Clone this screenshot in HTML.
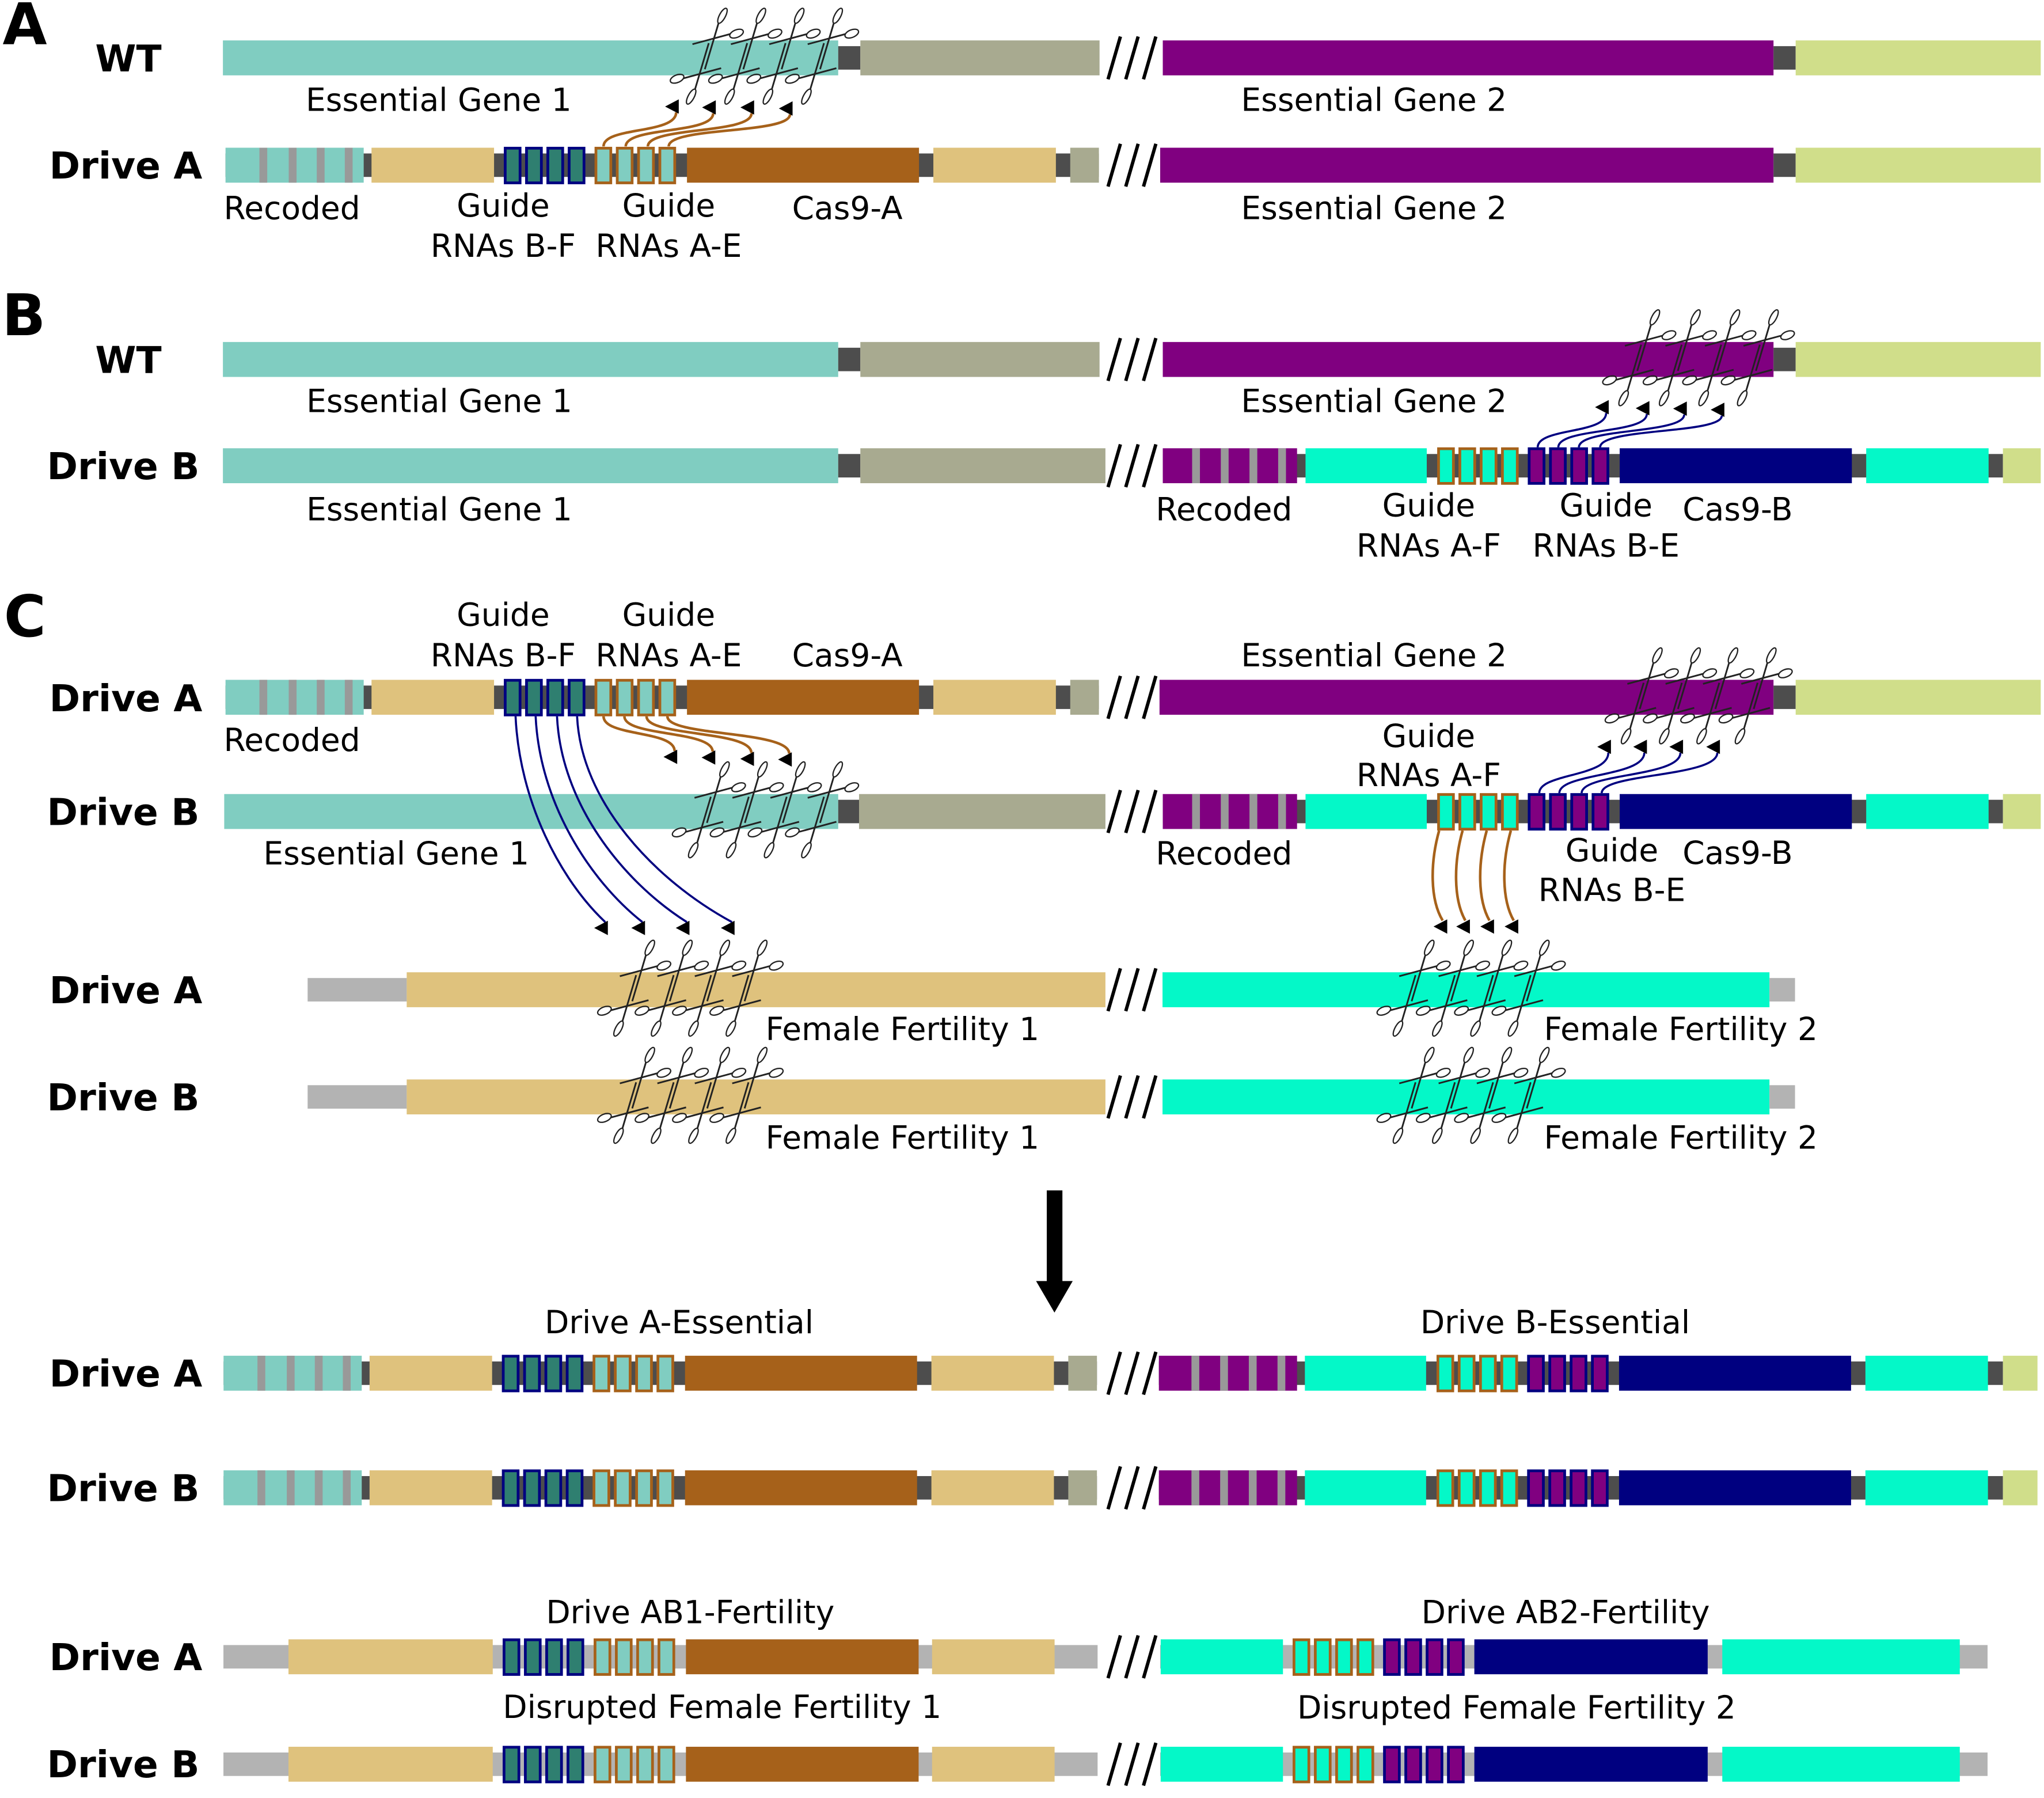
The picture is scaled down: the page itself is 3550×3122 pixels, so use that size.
<!DOCTYPE html>
<html><head><meta charset="utf-8"><style>
html,body{margin:0;padding:0;background:#fff;overflow:hidden}
svg{display:block}
.t{font-family:"DejaVu Sans","Liberation Sans",sans-serif;font-size:24.3px;fill:#000}
.b{font-family:"DejaVu Sans","Liberation Sans",sans-serif;font-size:28.5px;font-weight:bold;fill:#000}
.L{font-family:"DejaVu Sans","Liberation Sans",sans-serif;font-size:44px;font-weight:bold;fill:#000}
.m{text-anchor:middle}
.sl{stroke:#000;stroke-width:2.6;fill:none}
.sc ellipse{fill:none;stroke:#222;stroke-width:1.0}
.sc path{fill:none;stroke:#222;stroke-width:1.3}
.br{fill:none;stroke:#a6611a;stroke-width:2.0}
.bl{fill:none;stroke:#000080;stroke-width:1.6}
</style></head><body>
<svg width="3550" height="3122" viewBox="0 0 1568 1379" preserveAspectRatio="none" xmlns="http://www.w3.org/2000/svg">
<rect x="0" y="0" width="1568" height="1379" fill="#fff"/>

<!-- Row 1: A WT -->
<g transform="translate(0,31)">
<rect x="171" width="472" height="26.8" fill="#80cdc1"/><rect x="643" y="4.4" width="17" height="18" fill="#4d4d4d"/><rect x="660" width="183.5" height="26.8" fill="#a8aa90"/>
<path class="sl" d="M850 29.8L859.5-3M863.6 29.8L873.1-3M877.2 29.8L886.7-3"/>
<rect x="892" width="468.5" height="26.8" fill="#800080"/><rect x="1360.5" y="4.4" width="17" height="18" fill="#4d4d4d"/><rect x="1377.5" width="188" height="26.8" fill="#d0de8a"/>
</g>

<!-- Row 2: A Drive A -->
<g transform="translate(0,113.3)">
<rect x="173" y="4.4" width="670" height="18" fill="#4d4d4d"/>
<rect x="173" width="106" height="26.8" fill="#80cdc1"/>
<rect x="199" width="6" height="26.8" fill="#999"/><rect x="221.5" width="6" height="26.8" fill="#999"/><rect x="243" width="6" height="26.8" fill="#999"/><rect x="264.5" width="6" height="26.8" fill="#999"/>
<rect x="285" width="94" height="26.8" fill="#dfc27d"/>
<rect x="387.55" y="0.35" width="11.4" height="26.6" fill="#2f7f70" stroke="#000080" stroke-width="2.1"/><rect x="403.9" y="0.35" width="11.4" height="26.6" fill="#2f7f70" stroke="#000080" stroke-width="2.1"/><rect x="420.25" y="0.35" width="11.4" height="26.6" fill="#2f7f70" stroke="#000080" stroke-width="2.1"/><rect x="436.6" y="0.35" width="11.4" height="26.6" fill="#2f7f70" stroke="#000080" stroke-width="2.1"/>
<rect x="457.15" y="0.35" width="11.4" height="26.6" fill="#80cdc1" stroke="#a6611a" stroke-width="2.1"/><rect x="473.5" y="0.35" width="11.4" height="26.6" fill="#80cdc1" stroke="#a6611a" stroke-width="2.1"/><rect x="489.85" y="0.35" width="11.4" height="26.6" fill="#80cdc1" stroke="#a6611a" stroke-width="2.1"/><rect x="506.2" y="0.35" width="11.4" height="26.6" fill="#80cdc1" stroke="#a6611a" stroke-width="2.1"/>
<rect x="527" width="178" height="26.8" fill="#a6611a"/>
<rect x="716" width="94" height="26.8" fill="#dfc27d"/>
<rect x="821" width="22" height="26.8" fill="#a8aa90"/>
<path class="sl" d="M850 29.8L859.5-3M863.6 29.8L873.1-3M877.2 29.8L886.7-3"/>
<rect x="890" width="470.5" height="26.8" fill="#800080"/><rect x="1360.5" y="4.4" width="17" height="18" fill="#4d4d4d"/><rect x="1377.5" width="188" height="26.8" fill="#d0de8a"/>
</g>

<!-- Row 3: B WT -->
<g transform="translate(0,262.3)">
<rect x="171" width="472" height="26.8" fill="#80cdc1"/><rect x="643" y="4.4" width="17" height="18" fill="#4d4d4d"/><rect x="660" width="183.5" height="26.8" fill="#a8aa90"/>
<path class="sl" d="M850 29.8L859.5-3M863.6 29.8L873.1-3M877.2 29.8L886.7-3"/>
<rect x="892" width="468.5" height="26.8" fill="#800080"/><rect x="1360.5" y="4.4" width="17" height="18" fill="#4d4d4d"/><rect x="1377.5" width="188" height="26.8" fill="#d0de8a"/>
</g>

<!-- Row 4: B Drive B -->
<g transform="translate(0,343.8)">
<rect x="171" width="472" height="26.8" fill="#80cdc1"/><rect x="643" y="4.4" width="17" height="18" fill="#4d4d4d"/><rect x="660" width="188" height="26.8" fill="#a8aa90"/>
<path class="sl" d="M850 29.8L859.5-3M863.6 29.8L873.1-3M877.2 29.8L886.7-3"/>
<rect x="892" y="4.4" width="644.5" height="18" fill="#4d4d4d"/>
<rect x="892" width="103" height="26.8" fill="#800080"/>
<rect x="914.5" width="6" height="26.8" fill="#999"/><rect x="936.5" width="6" height="26.8" fill="#999"/><rect x="958.5" width="6" height="26.8" fill="#999"/><rect x="980.5" width="6" height="26.8" fill="#999"/>
<rect x="1001.5" width="93" height="26.8" fill="#04f8c8"/>
<rect x="1103.55" y="0.35" width="11.4" height="26.6" fill="#04f8c8" stroke="#a6611a" stroke-width="2.1"/><rect x="1119.88" y="0.35" width="11.4" height="26.6" fill="#04f8c8" stroke="#a6611a" stroke-width="2.1"/><rect x="1136.22" y="0.35" width="11.4" height="26.6" fill="#04f8c8" stroke="#a6611a" stroke-width="2.1"/><rect x="1152.55" y="0.35" width="11.4" height="26.6" fill="#04f8c8" stroke="#a6611a" stroke-width="2.1"/>
<rect x="1173.05" y="0.35" width="11.4" height="26.6" fill="#800080" stroke="#000080" stroke-width="2.1"/><rect x="1189.38" y="0.35" width="11.4" height="26.6" fill="#800080" stroke="#000080" stroke-width="2.1"/><rect x="1205.72" y="0.35" width="11.4" height="26.6" fill="#800080" stroke="#000080" stroke-width="2.1"/><rect x="1222.05" y="0.35" width="11.4" height="26.6" fill="#800080" stroke="#000080" stroke-width="2.1"/>
<rect x="1242.5" width="178.1" height="26.8" fill="#000080"/>
<rect x="1431.6" width="93.9" height="26.8" fill="#04f8c8"/>
<rect x="1536.5" width="29" height="26.8" fill="#d0de8a"/>
</g>

<!-- Row 5: C Drive A -->
<g transform="translate(0,521.4)">
<rect x="173" y="4.4" width="670" height="18" fill="#4d4d4d"/>
<rect x="173" width="106" height="26.8" fill="#80cdc1"/>
<rect x="199" width="6" height="26.8" fill="#999"/><rect x="221.5" width="6" height="26.8" fill="#999"/><rect x="243" width="6" height="26.8" fill="#999"/><rect x="264.5" width="6" height="26.8" fill="#999"/>
<rect x="285" width="94" height="26.8" fill="#dfc27d"/>
<rect x="387.55" y="0.35" width="11.4" height="26.6" fill="#2f7f70" stroke="#000080" stroke-width="2.1"/><rect x="403.9" y="0.35" width="11.4" height="26.6" fill="#2f7f70" stroke="#000080" stroke-width="2.1"/><rect x="420.25" y="0.35" width="11.4" height="26.6" fill="#2f7f70" stroke="#000080" stroke-width="2.1"/><rect x="436.6" y="0.35" width="11.4" height="26.6" fill="#2f7f70" stroke="#000080" stroke-width="2.1"/>
<rect x="457.15" y="0.35" width="11.4" height="26.6" fill="#80cdc1" stroke="#a6611a" stroke-width="2.1"/><rect x="473.5" y="0.35" width="11.4" height="26.6" fill="#80cdc1" stroke="#a6611a" stroke-width="2.1"/><rect x="489.85" y="0.35" width="11.4" height="26.6" fill="#80cdc1" stroke="#a6611a" stroke-width="2.1"/><rect x="506.2" y="0.35" width="11.4" height="26.6" fill="#80cdc1" stroke="#a6611a" stroke-width="2.1"/>
<rect x="527" width="178" height="26.8" fill="#a6611a"/>
<rect x="716" width="94" height="26.8" fill="#dfc27d"/>
<rect x="821" width="22" height="26.8" fill="#a8aa90"/>
<path class="sl" d="M850 29.8L859.5-3M863.6 29.8L873.1-3M877.2 29.8L886.7-3"/>
<rect x="889.5" width="471" height="26.8" fill="#800080"/><rect x="1360.5" y="4.4" width="17" height="18" fill="#4d4d4d"/><rect x="1377.5" width="188" height="26.8" fill="#d0de8a"/>
</g>

<!-- Row 6: C Drive B -->
<g transform="translate(0,609)">
<rect x="172" width="471" height="26.8" fill="#80cdc1"/><rect x="643" y="4.4" width="16" height="18" fill="#4d4d4d"/><rect x="659" width="189" height="26.8" fill="#a8aa90"/>
<path class="sl" d="M850 29.8L859.5-3M863.6 29.8L873.1-3M877.2 29.8L886.7-3"/>
<rect x="892" y="4.4" width="644.5" height="18" fill="#4d4d4d"/>
<rect x="892" width="103" height="26.8" fill="#800080"/>
<rect x="914.5" width="6" height="26.8" fill="#999"/><rect x="936.5" width="6" height="26.8" fill="#999"/><rect x="958.5" width="6" height="26.8" fill="#999"/><rect x="980.5" width="6" height="26.8" fill="#999"/>
<rect x="1001.5" width="93" height="26.8" fill="#04f8c8"/>
<rect x="1103.55" y="0.35" width="11.4" height="26.6" fill="#04f8c8" stroke="#a6611a" stroke-width="2.1"/><rect x="1119.88" y="0.35" width="11.4" height="26.6" fill="#04f8c8" stroke="#a6611a" stroke-width="2.1"/><rect x="1136.22" y="0.35" width="11.4" height="26.6" fill="#04f8c8" stroke="#a6611a" stroke-width="2.1"/><rect x="1152.55" y="0.35" width="11.4" height="26.6" fill="#04f8c8" stroke="#a6611a" stroke-width="2.1"/>
<rect x="1173.05" y="0.35" width="11.4" height="26.6" fill="#800080" stroke="#000080" stroke-width="2.1"/><rect x="1189.38" y="0.35" width="11.4" height="26.6" fill="#800080" stroke="#000080" stroke-width="2.1"/><rect x="1205.72" y="0.35" width="11.4" height="26.6" fill="#800080" stroke="#000080" stroke-width="2.1"/><rect x="1222.05" y="0.35" width="11.4" height="26.6" fill="#800080" stroke="#000080" stroke-width="2.1"/>
<rect x="1242.5" width="178.1" height="26.8" fill="#000080"/>
<rect x="1431.6" width="93.9" height="26.8" fill="#04f8c8"/>
<rect x="1536.5" width="29" height="26.8" fill="#d0de8a"/>
</g>

<!-- Rows 7,8: Female fertility -->
<g transform="translate(0,745.7)">
<rect x="236" y="4.4" width="76" height="18" fill="#b3b3b3"/><rect x="312" width="536" height="26.8" fill="#dfc27d"/>
<path class="sl" d="M850 29.8L859.5-3M863.6 29.8L873.1-3M877.2 29.8L886.7-3"/>
<rect x="891.8" width="465.6" height="26.8" fill="#04f8c8"/><rect x="1357.4" y="4.4" width="19.6" height="18" fill="#b3b3b3"/>
</g>
<g transform="translate(0,827.9)">
<rect x="236" y="4.4" width="76" height="18" fill="#b3b3b3"/><rect x="312" width="536" height="26.8" fill="#dfc27d"/>
<path class="sl" d="M850 29.8L859.5-3M863.6 29.8L873.1-3M877.2 29.8L886.7-3"/>
<rect x="891.8" width="465.6" height="26.8" fill="#04f8c8"/><rect x="1357.4" y="4.4" width="19.6" height="18" fill="#b3b3b3"/>
</g>

<!-- Rows 9,10 -->
<g transform="translate(0,1039.8)">
<g transform="translate(-1.5,0)">
<rect x="173" y="4.4" width="670" height="18" fill="#4d4d4d"/>
<rect x="173" width="106" height="26.8" fill="#80cdc1"/>
<rect x="199" width="6" height="26.8" fill="#999"/><rect x="221.5" width="6" height="26.8" fill="#999"/><rect x="243" width="6" height="26.8" fill="#999"/><rect x="264.5" width="6" height="26.8" fill="#999"/>
<rect x="285" width="94" height="26.8" fill="#dfc27d"/>
<rect x="387.55" y="0.35" width="11.4" height="26.6" fill="#2f7f70" stroke="#000080" stroke-width="2.1"/><rect x="403.9" y="0.35" width="11.4" height="26.6" fill="#2f7f70" stroke="#000080" stroke-width="2.1"/><rect x="420.25" y="0.35" width="11.4" height="26.6" fill="#2f7f70" stroke="#000080" stroke-width="2.1"/><rect x="436.6" y="0.35" width="11.4" height="26.6" fill="#2f7f70" stroke="#000080" stroke-width="2.1"/>
<rect x="457.15" y="0.35" width="11.4" height="26.6" fill="#80cdc1" stroke="#a6611a" stroke-width="2.1"/><rect x="473.5" y="0.35" width="11.4" height="26.6" fill="#80cdc1" stroke="#a6611a" stroke-width="2.1"/><rect x="489.85" y="0.35" width="11.4" height="26.6" fill="#80cdc1" stroke="#a6611a" stroke-width="2.1"/><rect x="506.2" y="0.35" width="11.4" height="26.6" fill="#80cdc1" stroke="#a6611a" stroke-width="2.1"/>
<rect x="527" width="178" height="26.8" fill="#a6611a"/>
<rect x="716" width="94" height="26.8" fill="#dfc27d"/>
<rect x="821" width="22" height="26.8" fill="#a8aa90"/>
</g>
<path class="sl" d="M850 29.8L859.5-3M863.6 29.8L873.1-3M877.2 29.8L886.7-3"/>
<rect x="889" y="4.4" width="647.5" height="18" fill="#4d4d4d"/>
<rect x="889" width="106" height="26.8" fill="#800080"/>
<rect x="914" width="6" height="26.8" fill="#999"/><rect x="936" width="6" height="26.8" fill="#999"/><rect x="958" width="6" height="26.8" fill="#999"/><rect x="980" width="6" height="26.8" fill="#999"/>
<rect x="1001" width="93" height="26.8" fill="#04f8c8"/>
<rect x="1103.05" y="0.35" width="11.4" height="26.6" fill="#04f8c8" stroke="#a6611a" stroke-width="2.1"/><rect x="1119.38" y="0.35" width="11.4" height="26.6" fill="#04f8c8" stroke="#a6611a" stroke-width="2.1"/><rect x="1135.72" y="0.35" width="11.4" height="26.6" fill="#04f8c8" stroke="#a6611a" stroke-width="2.1"/><rect x="1152.05" y="0.35" width="11.4" height="26.6" fill="#04f8c8" stroke="#a6611a" stroke-width="2.1"/>
<rect x="1172.55" y="0.35" width="11.4" height="26.6" fill="#800080" stroke="#000080" stroke-width="2.1"/><rect x="1188.88" y="0.35" width="11.4" height="26.6" fill="#800080" stroke="#000080" stroke-width="2.1"/><rect x="1205.22" y="0.35" width="11.4" height="26.6" fill="#800080" stroke="#000080" stroke-width="2.1"/><rect x="1221.55" y="0.35" width="11.4" height="26.6" fill="#800080" stroke="#000080" stroke-width="2.1"/>
<rect x="1242" width="178" height="26.8" fill="#000080"/>
<rect x="1431" width="94" height="26.8" fill="#04f8c8"/>
<rect x="1536.5" width="26.5" height="26.8" fill="#d0de8a"/>
</g>
<g transform="translate(0,1127.7)">
<g transform="translate(-1.5,0)">
<rect x="173" y="4.4" width="670" height="18" fill="#4d4d4d"/>
<rect x="173" width="106" height="26.8" fill="#80cdc1"/>
<rect x="199" width="6" height="26.8" fill="#999"/><rect x="221.5" width="6" height="26.8" fill="#999"/><rect x="243" width="6" height="26.8" fill="#999"/><rect x="264.5" width="6" height="26.8" fill="#999"/>
<rect x="285" width="94" height="26.8" fill="#dfc27d"/>
<rect x="387.55" y="0.35" width="11.4" height="26.6" fill="#2f7f70" stroke="#000080" stroke-width="2.1"/><rect x="403.9" y="0.35" width="11.4" height="26.6" fill="#2f7f70" stroke="#000080" stroke-width="2.1"/><rect x="420.25" y="0.35" width="11.4" height="26.6" fill="#2f7f70" stroke="#000080" stroke-width="2.1"/><rect x="436.6" y="0.35" width="11.4" height="26.6" fill="#2f7f70" stroke="#000080" stroke-width="2.1"/>
<rect x="457.15" y="0.35" width="11.4" height="26.6" fill="#80cdc1" stroke="#a6611a" stroke-width="2.1"/><rect x="473.5" y="0.35" width="11.4" height="26.6" fill="#80cdc1" stroke="#a6611a" stroke-width="2.1"/><rect x="489.85" y="0.35" width="11.4" height="26.6" fill="#80cdc1" stroke="#a6611a" stroke-width="2.1"/><rect x="506.2" y="0.35" width="11.4" height="26.6" fill="#80cdc1" stroke="#a6611a" stroke-width="2.1"/>
<rect x="527" width="178" height="26.8" fill="#a6611a"/>
<rect x="716" width="94" height="26.8" fill="#dfc27d"/>
<rect x="821" width="22" height="26.8" fill="#a8aa90"/>
</g>
<path class="sl" d="M850 29.8L859.5-3M863.6 29.8L873.1-3M877.2 29.8L886.7-3"/>
<rect x="889" y="4.4" width="647.5" height="18" fill="#4d4d4d"/>
<rect x="889" width="106" height="26.8" fill="#800080"/>
<rect x="914" width="6" height="26.8" fill="#999"/><rect x="936" width="6" height="26.8" fill="#999"/><rect x="958" width="6" height="26.8" fill="#999"/><rect x="980" width="6" height="26.8" fill="#999"/>
<rect x="1001" width="93" height="26.8" fill="#04f8c8"/>
<rect x="1103.05" y="0.35" width="11.4" height="26.6" fill="#04f8c8" stroke="#a6611a" stroke-width="2.1"/><rect x="1119.38" y="0.35" width="11.4" height="26.6" fill="#04f8c8" stroke="#a6611a" stroke-width="2.1"/><rect x="1135.72" y="0.35" width="11.4" height="26.6" fill="#04f8c8" stroke="#a6611a" stroke-width="2.1"/><rect x="1152.05" y="0.35" width="11.4" height="26.6" fill="#04f8c8" stroke="#a6611a" stroke-width="2.1"/>
<rect x="1172.55" y="0.35" width="11.4" height="26.6" fill="#800080" stroke="#000080" stroke-width="2.1"/><rect x="1188.88" y="0.35" width="11.4" height="26.6" fill="#800080" stroke="#000080" stroke-width="2.1"/><rect x="1205.22" y="0.35" width="11.4" height="26.6" fill="#800080" stroke="#000080" stroke-width="2.1"/><rect x="1221.55" y="0.35" width="11.4" height="26.6" fill="#800080" stroke="#000080" stroke-width="2.1"/>
<rect x="1242" width="178" height="26.8" fill="#000080"/>
<rect x="1431" width="94" height="26.8" fill="#04f8c8"/>
<rect x="1536.5" width="26.5" height="26.8" fill="#d0de8a"/>
</g>

<!-- Rows 11,12 -->
<g transform="translate(0,1257.3)">
<rect x="171.4" y="4.4" width="670.6" height="18" fill="#b3b3b3"/>
<rect x="221.3" width="156.7" height="26.8" fill="#dfc27d"/>
<rect x="386.65" y="0.35" width="11.4" height="26.6" fill="#2f7f70" stroke="#000080" stroke-width="2.1"/><rect x="403" y="0.35" width="11.4" height="26.6" fill="#2f7f70" stroke="#000080" stroke-width="2.1"/><rect x="419.35" y="0.35" width="11.4" height="26.6" fill="#2f7f70" stroke="#000080" stroke-width="2.1"/><rect x="435.7" y="0.35" width="11.4" height="26.6" fill="#2f7f70" stroke="#000080" stroke-width="2.1"/>
<rect x="456.45" y="0.35" width="11.4" height="26.6" fill="#80cdc1" stroke="#a6611a" stroke-width="2.1"/><rect x="472.8" y="0.35" width="11.4" height="26.6" fill="#80cdc1" stroke="#a6611a" stroke-width="2.1"/><rect x="489.15" y="0.35" width="11.4" height="26.6" fill="#80cdc1" stroke="#a6611a" stroke-width="2.1"/><rect x="505.5" y="0.35" width="11.4" height="26.6" fill="#80cdc1" stroke="#a6611a" stroke-width="2.1"/>
<rect x="526.2" width="178.5" height="26.8" fill="#a6611a"/>
<rect x="715" width="94" height="26.8" fill="#dfc27d"/>
<path class="sl" d="M850 29.8L859.5-3M863.6 29.8L873.1-3M877.2 29.8L886.7-3"/>
<rect x="890" y="4.4" width="634.7" height="18" fill="#b3b3b3"/>
<rect x="890.4" width="93.8" height="26.8" fill="#04f8c8"/>
<rect x="992.65" y="0.35" width="11.4" height="26.6" fill="#04f8c8" stroke="#a6611a" stroke-width="2.1"/><rect x="1009" y="0.35" width="11.4" height="26.6" fill="#04f8c8" stroke="#a6611a" stroke-width="2.1"/><rect x="1025.35" y="0.35" width="11.4" height="26.6" fill="#04f8c8" stroke="#a6611a" stroke-width="2.1"/><rect x="1041.7" y="0.35" width="11.4" height="26.6" fill="#04f8c8" stroke="#a6611a" stroke-width="2.1"/>
<rect x="1062.05" y="0.35" width="11.4" height="26.6" fill="#800080" stroke="#000080" stroke-width="2.1"/><rect x="1078.4" y="0.35" width="11.4" height="26.6" fill="#800080" stroke="#000080" stroke-width="2.1"/><rect x="1094.75" y="0.35" width="11.4" height="26.6" fill="#800080" stroke="#000080" stroke-width="2.1"/><rect x="1111.1" y="0.35" width="11.4" height="26.6" fill="#800080" stroke="#000080" stroke-width="2.1"/>
<rect x="1131" width="179" height="26.8" fill="#000080"/>
<rect x="1321.2" width="182.2" height="26.8" fill="#04f8c8"/>
</g>
<g transform="translate(0,1339.7)">
<rect x="171.4" y="4.4" width="670.6" height="18" fill="#b3b3b3"/>
<rect x="221.3" width="156.7" height="26.8" fill="#dfc27d"/>
<rect x="386.65" y="0.35" width="11.4" height="26.6" fill="#2f7f70" stroke="#000080" stroke-width="2.1"/><rect x="403" y="0.35" width="11.4" height="26.6" fill="#2f7f70" stroke="#000080" stroke-width="2.1"/><rect x="419.35" y="0.35" width="11.4" height="26.6" fill="#2f7f70" stroke="#000080" stroke-width="2.1"/><rect x="435.7" y="0.35" width="11.4" height="26.6" fill="#2f7f70" stroke="#000080" stroke-width="2.1"/>
<rect x="456.45" y="0.35" width="11.4" height="26.6" fill="#80cdc1" stroke="#a6611a" stroke-width="2.1"/><rect x="472.8" y="0.35" width="11.4" height="26.6" fill="#80cdc1" stroke="#a6611a" stroke-width="2.1"/><rect x="489.15" y="0.35" width="11.4" height="26.6" fill="#80cdc1" stroke="#a6611a" stroke-width="2.1"/><rect x="505.5" y="0.35" width="11.4" height="26.6" fill="#80cdc1" stroke="#a6611a" stroke-width="2.1"/>
<rect x="526.2" width="178.5" height="26.8" fill="#a6611a"/>
<rect x="715" width="94" height="26.8" fill="#dfc27d"/>
<path class="sl" d="M850 29.8L859.5-3M863.6 29.8L873.1-3M877.2 29.8L886.7-3"/>
<rect x="890" y="4.4" width="634.7" height="18" fill="#b3b3b3"/>
<rect x="890.4" width="93.8" height="26.8" fill="#04f8c8"/>
<rect x="992.65" y="0.35" width="11.4" height="26.6" fill="#04f8c8" stroke="#a6611a" stroke-width="2.1"/><rect x="1009" y="0.35" width="11.4" height="26.6" fill="#04f8c8" stroke="#a6611a" stroke-width="2.1"/><rect x="1025.35" y="0.35" width="11.4" height="26.6" fill="#04f8c8" stroke="#a6611a" stroke-width="2.1"/><rect x="1041.7" y="0.35" width="11.4" height="26.6" fill="#04f8c8" stroke="#a6611a" stroke-width="2.1"/>
<rect x="1062.05" y="0.35" width="11.4" height="26.6" fill="#800080" stroke="#000080" stroke-width="2.1"/><rect x="1078.4" y="0.35" width="11.4" height="26.6" fill="#800080" stroke="#000080" stroke-width="2.1"/><rect x="1094.75" y="0.35" width="11.4" height="26.6" fill="#800080" stroke="#000080" stroke-width="2.1"/><rect x="1111.1" y="0.35" width="11.4" height="26.6" fill="#800080" stroke="#000080" stroke-width="2.1"/>
<rect x="1131" width="179" height="26.8" fill="#000080"/>
<rect x="1321.2" width="182.2" height="26.8" fill="#04f8c8"/>
</g>

<!-- Scissors -->
<g id="scissors">
<g transform="translate(542.2,43.1)"><g class="sc"><ellipse cx="12" cy="-31" rx="2.3" ry="6.4" transform="rotate(28 12 -31)"/><ellipse cx="22.8" cy="-17.3" rx="5.5" ry="2.9" transform="rotate(-22 22.8 -17.3)"/><path d="M-11-9.2L18-17M9-25.3L-1.5 10"/></g><g class="sc" transform="rotate(180)"><ellipse cx="12" cy="-31" rx="2.3" ry="6.4" transform="rotate(28 12 -31)"/><ellipse cx="22.8" cy="-17.3" rx="5.5" ry="2.9" transform="rotate(-22 22.8 -17.3)"/><path d="M-11-9.2L18-17M9-25.3L-1.5 10"/></g></g>
<g transform="translate(571.7,43.1)"><g class="sc"><ellipse cx="12" cy="-31" rx="2.3" ry="6.4" transform="rotate(28 12 -31)"/><ellipse cx="22.8" cy="-17.3" rx="5.5" ry="2.9" transform="rotate(-22 22.8 -17.3)"/><path d="M-11-9.2L18-17M9-25.3L-1.5 10"/></g><g class="sc" transform="rotate(180)"><ellipse cx="12" cy="-31" rx="2.3" ry="6.4" transform="rotate(28 12 -31)"/><ellipse cx="22.8" cy="-17.3" rx="5.5" ry="2.9" transform="rotate(-22 22.8 -17.3)"/><path d="M-11-9.2L18-17M9-25.3L-1.5 10"/></g></g>
<g transform="translate(601.1,43.1)"><g class="sc"><ellipse cx="12" cy="-31" rx="2.3" ry="6.4" transform="rotate(28 12 -31)"/><ellipse cx="22.8" cy="-17.3" rx="5.5" ry="2.9" transform="rotate(-22 22.8 -17.3)"/><path d="M-11-9.2L18-17M9-25.3L-1.5 10"/></g><g class="sc" transform="rotate(180)"><ellipse cx="12" cy="-31" rx="2.3" ry="6.4" transform="rotate(28 12 -31)"/><ellipse cx="22.8" cy="-17.3" rx="5.5" ry="2.9" transform="rotate(-22 22.8 -17.3)"/><path d="M-11-9.2L18-17M9-25.3L-1.5 10"/></g></g>
<g transform="translate(630.6,43.1)"><g class="sc"><ellipse cx="12" cy="-31" rx="2.3" ry="6.4" transform="rotate(28 12 -31)"/><ellipse cx="22.8" cy="-17.3" rx="5.5" ry="2.9" transform="rotate(-22 22.8 -17.3)"/><path d="M-11-9.2L18-17M9-25.3L-1.5 10"/></g><g class="sc" transform="rotate(180)"><ellipse cx="12" cy="-31" rx="2.3" ry="6.4" transform="rotate(28 12 -31)"/><ellipse cx="22.8" cy="-17.3" rx="5.5" ry="2.9" transform="rotate(-22 22.8 -17.3)"/><path d="M-11-9.2L18-17M9-25.3L-1.5 10"/></g></g>

<g transform="translate(1257.5,274.4)"><g class="sc"><ellipse cx="12" cy="-31" rx="2.3" ry="6.4" transform="rotate(28 12 -31)"/><ellipse cx="22.8" cy="-17.3" rx="5.5" ry="2.9" transform="rotate(-22 22.8 -17.3)"/><path d="M-11-9.2L18-17M9-25.3L-1.5 10"/></g><g class="sc" transform="rotate(180)"><ellipse cx="12" cy="-31" rx="2.3" ry="6.4" transform="rotate(28 12 -31)"/><ellipse cx="22.8" cy="-17.3" rx="5.5" ry="2.9" transform="rotate(-22 22.8 -17.3)"/><path d="M-11-9.2L18-17M9-25.3L-1.5 10"/></g></g>
<g transform="translate(1288.6,274.4)"><g class="sc"><ellipse cx="12" cy="-31" rx="2.3" ry="6.4" transform="rotate(28 12 -31)"/><ellipse cx="22.8" cy="-17.3" rx="5.5" ry="2.9" transform="rotate(-22 22.8 -17.3)"/><path d="M-11-9.2L18-17M9-25.3L-1.5 10"/></g><g class="sc" transform="rotate(180)"><ellipse cx="12" cy="-31" rx="2.3" ry="6.4" transform="rotate(28 12 -31)"/><ellipse cx="22.8" cy="-17.3" rx="5.5" ry="2.9" transform="rotate(-22 22.8 -17.3)"/><path d="M-11-9.2L18-17M9-25.3L-1.5 10"/></g></g>
<g transform="translate(1318.9,274.4)"><g class="sc"><ellipse cx="12" cy="-31" rx="2.3" ry="6.4" transform="rotate(28 12 -31)"/><ellipse cx="22.8" cy="-17.3" rx="5.5" ry="2.9" transform="rotate(-22 22.8 -17.3)"/><path d="M-11-9.2L18-17M9-25.3L-1.5 10"/></g><g class="sc" transform="rotate(180)"><ellipse cx="12" cy="-31" rx="2.3" ry="6.4" transform="rotate(28 12 -31)"/><ellipse cx="22.8" cy="-17.3" rx="5.5" ry="2.9" transform="rotate(-22 22.8 -17.3)"/><path d="M-11-9.2L18-17M9-25.3L-1.5 10"/></g></g>
<g transform="translate(1348.5,274.4)"><g class="sc"><ellipse cx="12" cy="-31" rx="2.3" ry="6.4" transform="rotate(28 12 -31)"/><ellipse cx="22.8" cy="-17.3" rx="5.5" ry="2.9" transform="rotate(-22 22.8 -17.3)"/><path d="M-11-9.2L18-17M9-25.3L-1.5 10"/></g><g class="sc" transform="rotate(180)"><ellipse cx="12" cy="-31" rx="2.3" ry="6.4" transform="rotate(28 12 -31)"/><ellipse cx="22.8" cy="-17.3" rx="5.5" ry="2.9" transform="rotate(-22 22.8 -17.3)"/><path d="M-11-9.2L18-17M9-25.3L-1.5 10"/></g></g>

<g transform="translate(1259.4,533.7)"><g class="sc"><ellipse cx="12" cy="-31" rx="2.3" ry="6.4" transform="rotate(28 12 -31)"/><ellipse cx="22.8" cy="-17.3" rx="5.5" ry="2.9" transform="rotate(-22 22.8 -17.3)"/><path d="M-11-9.2L18-17M9-25.3L-1.5 10"/></g><g class="sc" transform="rotate(180)"><ellipse cx="12" cy="-31" rx="2.3" ry="6.4" transform="rotate(28 12 -31)"/><ellipse cx="22.8" cy="-17.3" rx="5.5" ry="2.9" transform="rotate(-22 22.8 -17.3)"/><path d="M-11-9.2L18-17M9-25.3L-1.5 10"/></g></g>
<g transform="translate(1288.7,533.7)"><g class="sc"><ellipse cx="12" cy="-31" rx="2.3" ry="6.4" transform="rotate(28 12 -31)"/><ellipse cx="22.8" cy="-17.3" rx="5.5" ry="2.9" transform="rotate(-22 22.8 -17.3)"/><path d="M-11-9.2L18-17M9-25.3L-1.5 10"/></g><g class="sc" transform="rotate(180)"><ellipse cx="12" cy="-31" rx="2.3" ry="6.4" transform="rotate(28 12 -31)"/><ellipse cx="22.8" cy="-17.3" rx="5.5" ry="2.9" transform="rotate(-22 22.8 -17.3)"/><path d="M-11-9.2L18-17M9-25.3L-1.5 10"/></g></g>
<g transform="translate(1317.4,533.7)"><g class="sc"><ellipse cx="12" cy="-31" rx="2.3" ry="6.4" transform="rotate(28 12 -31)"/><ellipse cx="22.8" cy="-17.3" rx="5.5" ry="2.9" transform="rotate(-22 22.8 -17.3)"/><path d="M-11-9.2L18-17M9-25.3L-1.5 10"/></g><g class="sc" transform="rotate(180)"><ellipse cx="12" cy="-31" rx="2.3" ry="6.4" transform="rotate(28 12 -31)"/><ellipse cx="22.8" cy="-17.3" rx="5.5" ry="2.9" transform="rotate(-22 22.8 -17.3)"/><path d="M-11-9.2L18-17M9-25.3L-1.5 10"/></g></g>
<g transform="translate(1346.8,533.7)"><g class="sc"><ellipse cx="12" cy="-31" rx="2.3" ry="6.4" transform="rotate(28 12 -31)"/><ellipse cx="22.8" cy="-17.3" rx="5.5" ry="2.9" transform="rotate(-22 22.8 -17.3)"/><path d="M-11-9.2L18-17M9-25.3L-1.5 10"/></g><g class="sc" transform="rotate(180)"><ellipse cx="12" cy="-31" rx="2.3" ry="6.4" transform="rotate(28 12 -31)"/><ellipse cx="22.8" cy="-17.3" rx="5.5" ry="2.9" transform="rotate(-22 22.8 -17.3)"/><path d="M-11-9.2L18-17M9-25.3L-1.5 10"/></g></g>

<g transform="translate(543.8,621.1)"><g class="sc"><ellipse cx="12" cy="-31" rx="2.3" ry="6.4" transform="rotate(28 12 -31)"/><ellipse cx="22.8" cy="-17.3" rx="5.5" ry="2.9" transform="rotate(-22 22.8 -17.3)"/><path d="M-11-9.2L18-17M9-25.3L-1.5 10"/></g><g class="sc" transform="rotate(180)"><ellipse cx="12" cy="-31" rx="2.3" ry="6.4" transform="rotate(28 12 -31)"/><ellipse cx="22.8" cy="-17.3" rx="5.5" ry="2.9" transform="rotate(-22 22.8 -17.3)"/><path d="M-11-9.2L18-17M9-25.3L-1.5 10"/></g></g>
<g transform="translate(572.9,621.1)"><g class="sc"><ellipse cx="12" cy="-31" rx="2.3" ry="6.4" transform="rotate(28 12 -31)"/><ellipse cx="22.8" cy="-17.3" rx="5.5" ry="2.9" transform="rotate(-22 22.8 -17.3)"/><path d="M-11-9.2L18-17M9-25.3L-1.5 10"/></g><g class="sc" transform="rotate(180)"><ellipse cx="12" cy="-31" rx="2.3" ry="6.4" transform="rotate(28 12 -31)"/><ellipse cx="22.8" cy="-17.3" rx="5.5" ry="2.9" transform="rotate(-22 22.8 -17.3)"/><path d="M-11-9.2L18-17M9-25.3L-1.5 10"/></g></g>
<g transform="translate(602,621.1)"><g class="sc"><ellipse cx="12" cy="-31" rx="2.3" ry="6.4" transform="rotate(28 12 -31)"/><ellipse cx="22.8" cy="-17.3" rx="5.5" ry="2.9" transform="rotate(-22 22.8 -17.3)"/><path d="M-11-9.2L18-17M9-25.3L-1.5 10"/></g><g class="sc" transform="rotate(180)"><ellipse cx="12" cy="-31" rx="2.3" ry="6.4" transform="rotate(28 12 -31)"/><ellipse cx="22.8" cy="-17.3" rx="5.5" ry="2.9" transform="rotate(-22 22.8 -17.3)"/><path d="M-11-9.2L18-17M9-25.3L-1.5 10"/></g></g>
<g transform="translate(630.6,621.1)"><g class="sc"><ellipse cx="12" cy="-31" rx="2.3" ry="6.4" transform="rotate(28 12 -31)"/><ellipse cx="22.8" cy="-17.3" rx="5.5" ry="2.9" transform="rotate(-22 22.8 -17.3)"/><path d="M-11-9.2L18-17M9-25.3L-1.5 10"/></g><g class="sc" transform="rotate(180)"><ellipse cx="12" cy="-31" rx="2.3" ry="6.4" transform="rotate(28 12 -31)"/><ellipse cx="22.8" cy="-17.3" rx="5.5" ry="2.9" transform="rotate(-22 22.8 -17.3)"/><path d="M-11-9.2L18-17M9-25.3L-1.5 10"/></g></g>

<g transform="translate(486.5,757.9)"><g class="sc"><ellipse cx="12" cy="-31" rx="2.3" ry="6.4" transform="rotate(28 12 -31)"/><ellipse cx="22.8" cy="-17.3" rx="5.5" ry="2.9" transform="rotate(-22 22.8 -17.3)"/><path d="M-11-9.2L18-17M9-25.3L-1.5 10"/></g><g class="sc" transform="rotate(180)"><ellipse cx="12" cy="-31" rx="2.3" ry="6.4" transform="rotate(28 12 -31)"/><ellipse cx="22.8" cy="-17.3" rx="5.5" ry="2.9" transform="rotate(-22 22.8 -17.3)"/><path d="M-11-9.2L18-17M9-25.3L-1.5 10"/></g></g>
<g transform="translate(515.3,757.9)"><g class="sc"><ellipse cx="12" cy="-31" rx="2.3" ry="6.4" transform="rotate(28 12 -31)"/><ellipse cx="22.8" cy="-17.3" rx="5.5" ry="2.9" transform="rotate(-22 22.8 -17.3)"/><path d="M-11-9.2L18-17M9-25.3L-1.5 10"/></g><g class="sc" transform="rotate(180)"><ellipse cx="12" cy="-31" rx="2.3" ry="6.4" transform="rotate(28 12 -31)"/><ellipse cx="22.8" cy="-17.3" rx="5.5" ry="2.9" transform="rotate(-22 22.8 -17.3)"/><path d="M-11-9.2L18-17M9-25.3L-1.5 10"/></g></g>
<g transform="translate(544,757.9)"><g class="sc"><ellipse cx="12" cy="-31" rx="2.3" ry="6.4" transform="rotate(28 12 -31)"/><ellipse cx="22.8" cy="-17.3" rx="5.5" ry="2.9" transform="rotate(-22 22.8 -17.3)"/><path d="M-11-9.2L18-17M9-25.3L-1.5 10"/></g><g class="sc" transform="rotate(180)"><ellipse cx="12" cy="-31" rx="2.3" ry="6.4" transform="rotate(28 12 -31)"/><ellipse cx="22.8" cy="-17.3" rx="5.5" ry="2.9" transform="rotate(-22 22.8 -17.3)"/><path d="M-11-9.2L18-17M9-25.3L-1.5 10"/></g></g>
<g transform="translate(572.7,757.9)"><g class="sc"><ellipse cx="12" cy="-31" rx="2.3" ry="6.4" transform="rotate(28 12 -31)"/><ellipse cx="22.8" cy="-17.3" rx="5.5" ry="2.9" transform="rotate(-22 22.8 -17.3)"/><path d="M-11-9.2L18-17M9-25.3L-1.5 10"/></g><g class="sc" transform="rotate(180)"><ellipse cx="12" cy="-31" rx="2.3" ry="6.4" transform="rotate(28 12 -31)"/><ellipse cx="22.8" cy="-17.3" rx="5.5" ry="2.9" transform="rotate(-22 22.8 -17.3)"/><path d="M-11-9.2L18-17M9-25.3L-1.5 10"/></g></g>

<g transform="translate(486.5,840.1)"><g class="sc"><ellipse cx="12" cy="-31" rx="2.3" ry="6.4" transform="rotate(28 12 -31)"/><ellipse cx="22.8" cy="-17.3" rx="5.5" ry="2.9" transform="rotate(-22 22.8 -17.3)"/><path d="M-11-9.2L18-17M9-25.3L-1.5 10"/></g><g class="sc" transform="rotate(180)"><ellipse cx="12" cy="-31" rx="2.3" ry="6.4" transform="rotate(28 12 -31)"/><ellipse cx="22.8" cy="-17.3" rx="5.5" ry="2.9" transform="rotate(-22 22.8 -17.3)"/><path d="M-11-9.2L18-17M9-25.3L-1.5 10"/></g></g>
<g transform="translate(515.3,840.1)"><g class="sc"><ellipse cx="12" cy="-31" rx="2.3" ry="6.4" transform="rotate(28 12 -31)"/><ellipse cx="22.8" cy="-17.3" rx="5.5" ry="2.9" transform="rotate(-22 22.8 -17.3)"/><path d="M-11-9.2L18-17M9-25.3L-1.5 10"/></g><g class="sc" transform="rotate(180)"><ellipse cx="12" cy="-31" rx="2.3" ry="6.4" transform="rotate(28 12 -31)"/><ellipse cx="22.8" cy="-17.3" rx="5.5" ry="2.9" transform="rotate(-22 22.8 -17.3)"/><path d="M-11-9.2L18-17M9-25.3L-1.5 10"/></g></g>
<g transform="translate(544,840.1)"><g class="sc"><ellipse cx="12" cy="-31" rx="2.3" ry="6.4" transform="rotate(28 12 -31)"/><ellipse cx="22.8" cy="-17.3" rx="5.5" ry="2.9" transform="rotate(-22 22.8 -17.3)"/><path d="M-11-9.2L18-17M9-25.3L-1.5 10"/></g><g class="sc" transform="rotate(180)"><ellipse cx="12" cy="-31" rx="2.3" ry="6.4" transform="rotate(28 12 -31)"/><ellipse cx="22.8" cy="-17.3" rx="5.5" ry="2.9" transform="rotate(-22 22.8 -17.3)"/><path d="M-11-9.2L18-17M9-25.3L-1.5 10"/></g></g>
<g transform="translate(572.7,840.1)"><g class="sc"><ellipse cx="12" cy="-31" rx="2.3" ry="6.4" transform="rotate(28 12 -31)"/><ellipse cx="22.8" cy="-17.3" rx="5.5" ry="2.9" transform="rotate(-22 22.8 -17.3)"/><path d="M-11-9.2L18-17M9-25.3L-1.5 10"/></g><g class="sc" transform="rotate(180)"><ellipse cx="12" cy="-31" rx="2.3" ry="6.4" transform="rotate(28 12 -31)"/><ellipse cx="22.8" cy="-17.3" rx="5.5" ry="2.9" transform="rotate(-22 22.8 -17.3)"/><path d="M-11-9.2L18-17M9-25.3L-1.5 10"/></g></g>

<g transform="translate(1084.4,757.9)"><g class="sc"><ellipse cx="12" cy="-31" rx="2.3" ry="6.4" transform="rotate(28 12 -31)"/><ellipse cx="22.8" cy="-17.3" rx="5.5" ry="2.9" transform="rotate(-22 22.8 -17.3)"/><path d="M-11-9.2L18-17M9-25.3L-1.5 10"/></g><g class="sc" transform="rotate(180)"><ellipse cx="12" cy="-31" rx="2.3" ry="6.4" transform="rotate(28 12 -31)"/><ellipse cx="22.8" cy="-17.3" rx="5.5" ry="2.9" transform="rotate(-22 22.8 -17.3)"/><path d="M-11-9.2L18-17M9-25.3L-1.5 10"/></g></g>
<g transform="translate(1114.6,757.9)"><g class="sc"><ellipse cx="12" cy="-31" rx="2.3" ry="6.4" transform="rotate(28 12 -31)"/><ellipse cx="22.8" cy="-17.3" rx="5.5" ry="2.9" transform="rotate(-22 22.8 -17.3)"/><path d="M-11-9.2L18-17M9-25.3L-1.5 10"/></g><g class="sc" transform="rotate(180)"><ellipse cx="12" cy="-31" rx="2.3" ry="6.4" transform="rotate(28 12 -31)"/><ellipse cx="22.8" cy="-17.3" rx="5.5" ry="2.9" transform="rotate(-22 22.8 -17.3)"/><path d="M-11-9.2L18-17M9-25.3L-1.5 10"/></g></g>
<g transform="translate(1143.9,757.9)"><g class="sc"><ellipse cx="12" cy="-31" rx="2.3" ry="6.4" transform="rotate(28 12 -31)"/><ellipse cx="22.8" cy="-17.3" rx="5.5" ry="2.9" transform="rotate(-22 22.8 -17.3)"/><path d="M-11-9.2L18-17M9-25.3L-1.5 10"/></g><g class="sc" transform="rotate(180)"><ellipse cx="12" cy="-31" rx="2.3" ry="6.4" transform="rotate(28 12 -31)"/><ellipse cx="22.8" cy="-17.3" rx="5.5" ry="2.9" transform="rotate(-22 22.8 -17.3)"/><path d="M-11-9.2L18-17M9-25.3L-1.5 10"/></g></g>
<g transform="translate(1172.7,757.9)"><g class="sc"><ellipse cx="12" cy="-31" rx="2.3" ry="6.4" transform="rotate(28 12 -31)"/><ellipse cx="22.8" cy="-17.3" rx="5.5" ry="2.9" transform="rotate(-22 22.8 -17.3)"/><path d="M-11-9.2L18-17M9-25.3L-1.5 10"/></g><g class="sc" transform="rotate(180)"><ellipse cx="12" cy="-31" rx="2.3" ry="6.4" transform="rotate(28 12 -31)"/><ellipse cx="22.8" cy="-17.3" rx="5.5" ry="2.9" transform="rotate(-22 22.8 -17.3)"/><path d="M-11-9.2L18-17M9-25.3L-1.5 10"/></g></g>

<g transform="translate(1084.4,840.1)"><g class="sc"><ellipse cx="12" cy="-31" rx="2.3" ry="6.4" transform="rotate(28 12 -31)"/><ellipse cx="22.8" cy="-17.3" rx="5.5" ry="2.9" transform="rotate(-22 22.8 -17.3)"/><path d="M-11-9.2L18-17M9-25.3L-1.5 10"/></g><g class="sc" transform="rotate(180)"><ellipse cx="12" cy="-31" rx="2.3" ry="6.4" transform="rotate(28 12 -31)"/><ellipse cx="22.8" cy="-17.3" rx="5.5" ry="2.9" transform="rotate(-22 22.8 -17.3)"/><path d="M-11-9.2L18-17M9-25.3L-1.5 10"/></g></g>
<g transform="translate(1114.6,840.1)"><g class="sc"><ellipse cx="12" cy="-31" rx="2.3" ry="6.4" transform="rotate(28 12 -31)"/><ellipse cx="22.8" cy="-17.3" rx="5.5" ry="2.9" transform="rotate(-22 22.8 -17.3)"/><path d="M-11-9.2L18-17M9-25.3L-1.5 10"/></g><g class="sc" transform="rotate(180)"><ellipse cx="12" cy="-31" rx="2.3" ry="6.4" transform="rotate(28 12 -31)"/><ellipse cx="22.8" cy="-17.3" rx="5.5" ry="2.9" transform="rotate(-22 22.8 -17.3)"/><path d="M-11-9.2L18-17M9-25.3L-1.5 10"/></g></g>
<g transform="translate(1143.9,840.1)"><g class="sc"><ellipse cx="12" cy="-31" rx="2.3" ry="6.4" transform="rotate(28 12 -31)"/><ellipse cx="22.8" cy="-17.3" rx="5.5" ry="2.9" transform="rotate(-22 22.8 -17.3)"/><path d="M-11-9.2L18-17M9-25.3L-1.5 10"/></g><g class="sc" transform="rotate(180)"><ellipse cx="12" cy="-31" rx="2.3" ry="6.4" transform="rotate(28 12 -31)"/><ellipse cx="22.8" cy="-17.3" rx="5.5" ry="2.9" transform="rotate(-22 22.8 -17.3)"/><path d="M-11-9.2L18-17M9-25.3L-1.5 10"/></g></g>
<g transform="translate(1172.7,840.1)"><g class="sc"><ellipse cx="12" cy="-31" rx="2.3" ry="6.4" transform="rotate(28 12 -31)"/><ellipse cx="22.8" cy="-17.3" rx="5.5" ry="2.9" transform="rotate(-22 22.8 -17.3)"/><path d="M-11-9.2L18-17M9-25.3L-1.5 10"/></g><g class="sc" transform="rotate(180)"><ellipse cx="12" cy="-31" rx="2.3" ry="6.4" transform="rotate(28 12 -31)"/><ellipse cx="22.8" cy="-17.3" rx="5.5" ry="2.9" transform="rotate(-22 22.8 -17.3)"/><path d="M-11-9.2L18-17M9-25.3L-1.5 10"/></g></g>
</g>

<!-- Arrows -->
<path class="br" d="M463 112.3C463 97 518.7 103 518.7 86.2M480 112.3C480 97 547.1 103 547.1 86.9M497 112.3C497 97 576.5 103 576.5 86.9M513 112.3C513 97 606 103 606 87.7"/>
<polygon points="510.2,81.7 520.7,76.2 520.7,87.2"/><polygon points="538.6,82.4 549.1,76.9 549.1,87.9"/><polygon points="568,82.4 578.5,76.9 578.5,87.9"/><polygon points="597.5,83.2 608,77.7 608,88.7"/>

<path class="bl" d="M1179.6 343.1C1179.6 328 1232.1 333 1232.1 316.8M1195.4 343.1C1195.4 328 1263.3 333 1263.3 317.6M1211.2 343.1C1211.2 328 1292 333 1292 317.9M1227.5 343.1C1227.5 328 1320.8 333 1320.8 318.8" stroke-width="2"/>
<polygon points="1223.6,312.3 1234.1,306.8 1234.1,317.8"/><polygon points="1254.8,313.1 1265.3,307.6 1265.3,318.6"/><polygon points="1283.5,313.4 1294,307.9 1294,318.9"/><polygon points="1312.3,314.3 1322.8,308.8 1322.8,319.8"/>

<path class="br" d="M463 549.4C463 565 517.5 560 517.5 576M479 549.4C479 565 546.7 560 546.7 576.5M496 549.4C496 565 576.4 560 576.4 577.5M512 549.4C512 565 605.4 560 605.4 578"/>
<polygon points="509,580.5 519.5,575 519.5,586"/><polygon points="538.2,581 548.7,575.5 548.7,586.5"/><polygon points="567.9,582 578.4,576.5 578.4,587.5"/><polygon points="596.9,582.5 607.4,577 607.4,588"/>

<path class="bl" d="M395.5 549.4C398.5 615 430 675 464.3 707.2M410.9 549.4C413.9 615 451.9 675 492.8 707.2M427.3 549.4C430.3 615 476.1 675 526.9 707.2M442.7 549.4C445.7 615 502.1 675 561.5 707.2"/>
<polygon points="455.8,711.7 466.3,706.2 466.3,717.2"/><polygon points="484.3,711.7 494.8,706.2 494.8,717.2"/><polygon points="518.4,711.7 528.9,706.2 528.9,717.2"/><polygon points="553,711.7 563.5,706.2 563.5,717.2"/>

<path class="bl" d="M1180.8 608.3C1180.8 593 1233.8 596 1233.8 577.3M1196.2 608.3C1196.2 593 1261.4 596 1261.4 577.3M1213.3 608.3C1213.3 593 1289.1 596 1289.1 577.3M1228.7 608.3C1228.7 593 1317.4 596 1317.4 577.3" stroke-width="2"/>
<polygon points="1225.3,572.8 1235.8,567.3 1235.8,578.3"/><polygon points="1252.9,572.8 1263.4,567.3 1263.4,578.3"/><polygon points="1280.6,572.8 1291.1,567.3 1291.1,578.3"/><polygon points="1308.9,572.8 1319.4,567.3 1319.4,578.3"/>

<path class="br" d="M1104 637C1097 662 1097 690 1106.7 706M1122 637C1115 662 1115 690 1124.1 706M1140.5 637C1133.5 662 1133.5 690 1142.6 706M1159 637C1152 662 1152 690 1161.2 706"/>
<polygon points="1099.7,710.6 1110.2,705.1 1110.2,716.1"/><polygon points="1117.1,710.6 1127.6,705.1 1127.6,716.1"/><polygon points="1135.6,710.6 1146.1,705.1 1146.1,716.1"/><polygon points="1154.2,710.6 1164.7,705.1 1164.7,716.1"/>

<!-- Big down arrow -->
<rect x="803" y="913" width="12" height="71" fill="#000"/>
<polygon points="794.8,982.5 822.9,982.5 808.9,1006.7" fill="#000"/>

<!-- Section labels -->
<text class="L" x="2" y="34">A</text>
<text class="L" x="1.5" y="257">B</text>
<text class="L" x="3" y="488">C</text>

<!-- Row labels -->
<text class="b m" x="98.5" y="54.7">WT</text>
<text class="b m" x="96.5" y="137">Drive A</text>
<text class="b m" x="98.5" y="286">WT</text>
<text class="b m" x="94.5" y="367.6">Drive B</text>
<text class="b m" x="96.5" y="545.4">Drive A</text>
<text class="b m" x="94.5" y="632.7">Drive B</text>
<text class="b m" x="96.5" y="769.5">Drive A</text>
<text class="b m" x="94.5" y="851.7">Drive B</text>
<text class="b m" x="96.5" y="1063.4">Drive A</text>
<text class="b m" x="94.5" y="1151.2">Drive B</text>
<text class="b m" x="96.5" y="1280.9">Drive A</text>
<text class="b m" x="94.5" y="1363.2">Drive B</text>

<text class="t m" x="336.5" y="85">Essential Gene 1</text>
<text class="t m" x="1054" y="85">Essential Gene 2</text>
<text class="t" x="171.6" y="168">Recoded</text>
<text class="t m" x="386" y="166">Guide</text>
<text class="t m" x="386" y="197">RNAs B-F</text>
<text class="t m" x="513" y="166">Guide</text>
<text class="t m" x="513" y="197">RNAs A-E</text>
<text class="t m" x="650" y="168">Cas9-A</text>
<text class="t m" x="1054" y="168">Essential Gene 2</text>

<text class="t m" x="337" y="316">Essential Gene 1</text>
<text class="t m" x="1054" y="316">Essential Gene 2</text>
<text class="t m" x="337" y="399">Essential Gene 1</text>
<text class="t" x="886.6" y="399">Recoded</text>
<text class="t m" x="1096" y="396">Guide</text>
<text class="t m" x="1096" y="427">RNAs A-F</text>
<text class="t m" x="1232" y="396">Guide</text>
<text class="t m" x="1232" y="427">RNAs B-E</text>
<text class="t m" x="1333" y="399">Cas9-B</text>

<text class="t m" x="386" y="480">Guide</text>
<text class="t m" x="386" y="511">RNAs B-F</text>
<text class="t m" x="513" y="480">Guide</text>
<text class="t m" x="513" y="511">RNAs A-E</text>
<text class="t m" x="650" y="511">Cas9-A</text>
<text class="t m" x="1054" y="511">Essential Gene 2</text>
<text class="t" x="171.6" y="576">Recoded</text>
<text class="t m" x="304" y="663">Essential Gene 1</text>
<text class="t m" x="1096" y="573">Guide</text>
<text class="t m" x="1096" y="603">RNAs A-F</text>
<text class="t" x="886.6" y="663">Recoded</text>
<text class="t m" x="1236.5" y="660.5">Guide</text>
<text class="t m" x="1333" y="662.5">Cas9-B</text>
<text class="t m" x="1236.5" y="691">RNAs B-E</text>

<text class="t" x="587.3" y="797.8">Female Fertility 1</text>
<text class="t" x="1184.4" y="797.8">Female Fertility 2</text>
<text class="t" x="587.3" y="881">Female Fertility 1</text>
<text class="t" x="1184.4" y="881">Female Fertility 2</text>

<text class="t m" x="521" y="1022.6">Drive A-Essential</text>
<text class="t m" x="1193" y="1022.6">Drive B-Essential</text>
<text class="t m" x="529.5" y="1245">Drive AB1-Fertility</text>
<text class="t m" x="1201" y="1245">Drive AB2-Fertility</text>
<text class="t m" x="554" y="1317.6">Disrupted Female Fertility 1</text>
<text class="t m" x="1163.4" y="1318">Disrupted Female Fertility 2</text>
</svg>
</body></html>
